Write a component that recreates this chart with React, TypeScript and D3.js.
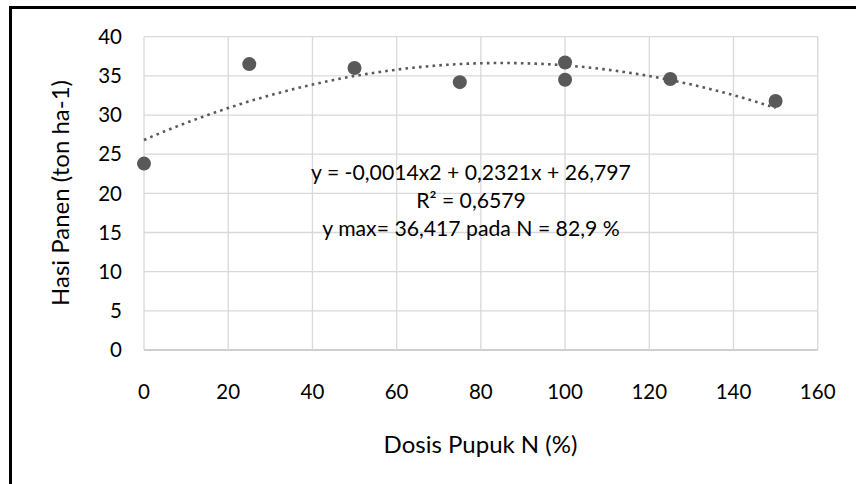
import React from "react";
import * as d3 from "d3";

const doses = [0, 25, 50, 75, 100, 100, 125, 150];
const yields = [23.8, 36.5, 36.0, 34.2, 36.7, 34.5, 34.6, 31.8];
const xTicks = [0, 20, 40, 60, 80, 100, 120, 140, 160];
const yTicks = [0, 5, 10, 15, 20, 25, 30, 35, 40];
const equationLines = [
  "y = -0,0014x2 + 0,2321x + 26,797",
  "R² = 0,6579",
  "y max= 36,417 pada N = 82,9 %",
];
const xTitle = "Dosis Pupuk N (%)";
const yTitle = "Hasi Panen (ton ha-1)";

function quadFit(xs: number[], ys: number[]) {
  const n = xs.length;
  let s0 = n, s1 = 0, s2 = 0, s3 = 0, s4 = 0, t0 = 0, t1 = 0, t2 = 0;
  for (let i = 0; i < n; i++) {
    const x = xs[i], y = ys[i];
    s1 += x; s2 += x * x; s3 += x * x * x; s4 += x * x * x * x;
    t0 += y; t1 += x * y; t2 += x * x * y;
  }
  const M = [
    [s4, s3, s2, t2],
    [s3, s2, s1, t1],
    [s2, s1, s0, t0],
  ];
  for (let i = 0; i < 3; i++) {
    let p = i;
    for (let r = i + 1; r < 3; r++) if (Math.abs(M[r][i]) > Math.abs(M[p][i])) p = r;
    [M[i], M[p]] = [M[p], M[i]];
    for (let r = 0; r < 3; r++) {
      if (r === i) continue;
      const f = M[r][i] / M[i][i];
      for (let c = i; c < 4; c++) M[r][c] -= f * M[i][c];
    }
  }
  return { a: M[0][3] / M[0][0], b: M[1][3] / M[1][1], c: M[2][3] / M[2][2] };
}

export default function App() {
  const W = 856, H = 484;
  const x = d3.scaleLinear().domain([0, 160]).range([144, 817.7]);
  const y = d3.scaleLinear().domain([0, 40]).range([350, 36.7]);
  const { a, b, c } = quadFit(doses, yields);
  const xMax = d3.max(doses) as number;
  const trendPts = d3.range(0, xMax + 0.01, 1).map((v) => [v, a * v * v + b * v + c] as [number, number]);
  const line = d3.line<[number, number]>().x((d) => x(d[0])).y((d) => y(d[1])).curve(d3.curveLinear);
  const font = "Lato, 'Open Sans', sans-serif";
  const textColor = "#000";

  return (
    <svg width={W} height={H} style={{ position: "absolute", left: 0, top: 0, background: "#fff" }}>
      <rect x={0} y={0} width={W} height={H} fill="#fff" />
      <rect x={10.5} y={7.5} width={W + 20} height={H + 20} fill="none" stroke="#000" strokeWidth={3} />
      {yTicks.map((t) => (
        <line key={"gy" + t} x1={x(0)} x2={x(160)} y1={y(t)} y2={y(t)}
          stroke={t === 0 ? "#bfbfbf" : "#d9d9d9"} strokeWidth={1.3} />
      ))}
      {xTicks.map((t) => (
        <line key={"gx" + t} x1={x(t)} x2={x(t)} y1={y(0)} y2={y(40)} stroke="#d9d9d9" strokeWidth={1.3} />
      ))}
      {yTicks.map((t) => (
        <text key={"ly" + t} x={122} y={y(t)} dy="0.35em" textAnchor="end"
          fontFamily={font} fontSize={20.5} fill={textColor}>{t}</text>
      ))}
      {xTicks.map((t) => (
        <text key={"lx" + t} x={x(t)} y={398.5} textAnchor="middle"
          fontFamily={font} fontSize={20.5} fill={textColor}>{t}</text>
      ))}
      <text x={480.5} y={453} textAnchor="middle" fontFamily={font} fontSize={24} fill={textColor}>{xTitle}</text>
      <text transform={`translate(69,193) rotate(-90)`} textAnchor="middle" fontFamily={font} fontSize={24} fill={textColor}>{yTitle}</text>
      {doses.map((d, i) => (
        <circle key={"p" + i} cx={x(d)} cy={y(yields[i])} r={7} fill="#595959" />
      ))}
      <path d={line(trendPts) || ""} fill="none" stroke="#595959" strokeWidth={2.6}
        strokeDasharray="2.6 4.2" />
      {equationLines.map((s, i) => (
        <text key={"eq" + i} x={471} y={180 + i * 27.8} textAnchor="middle"
          fontFamily={font} fontSize={21.2} fill={textColor}>{s}</text>
      ))}
    </svg>
  );
}
